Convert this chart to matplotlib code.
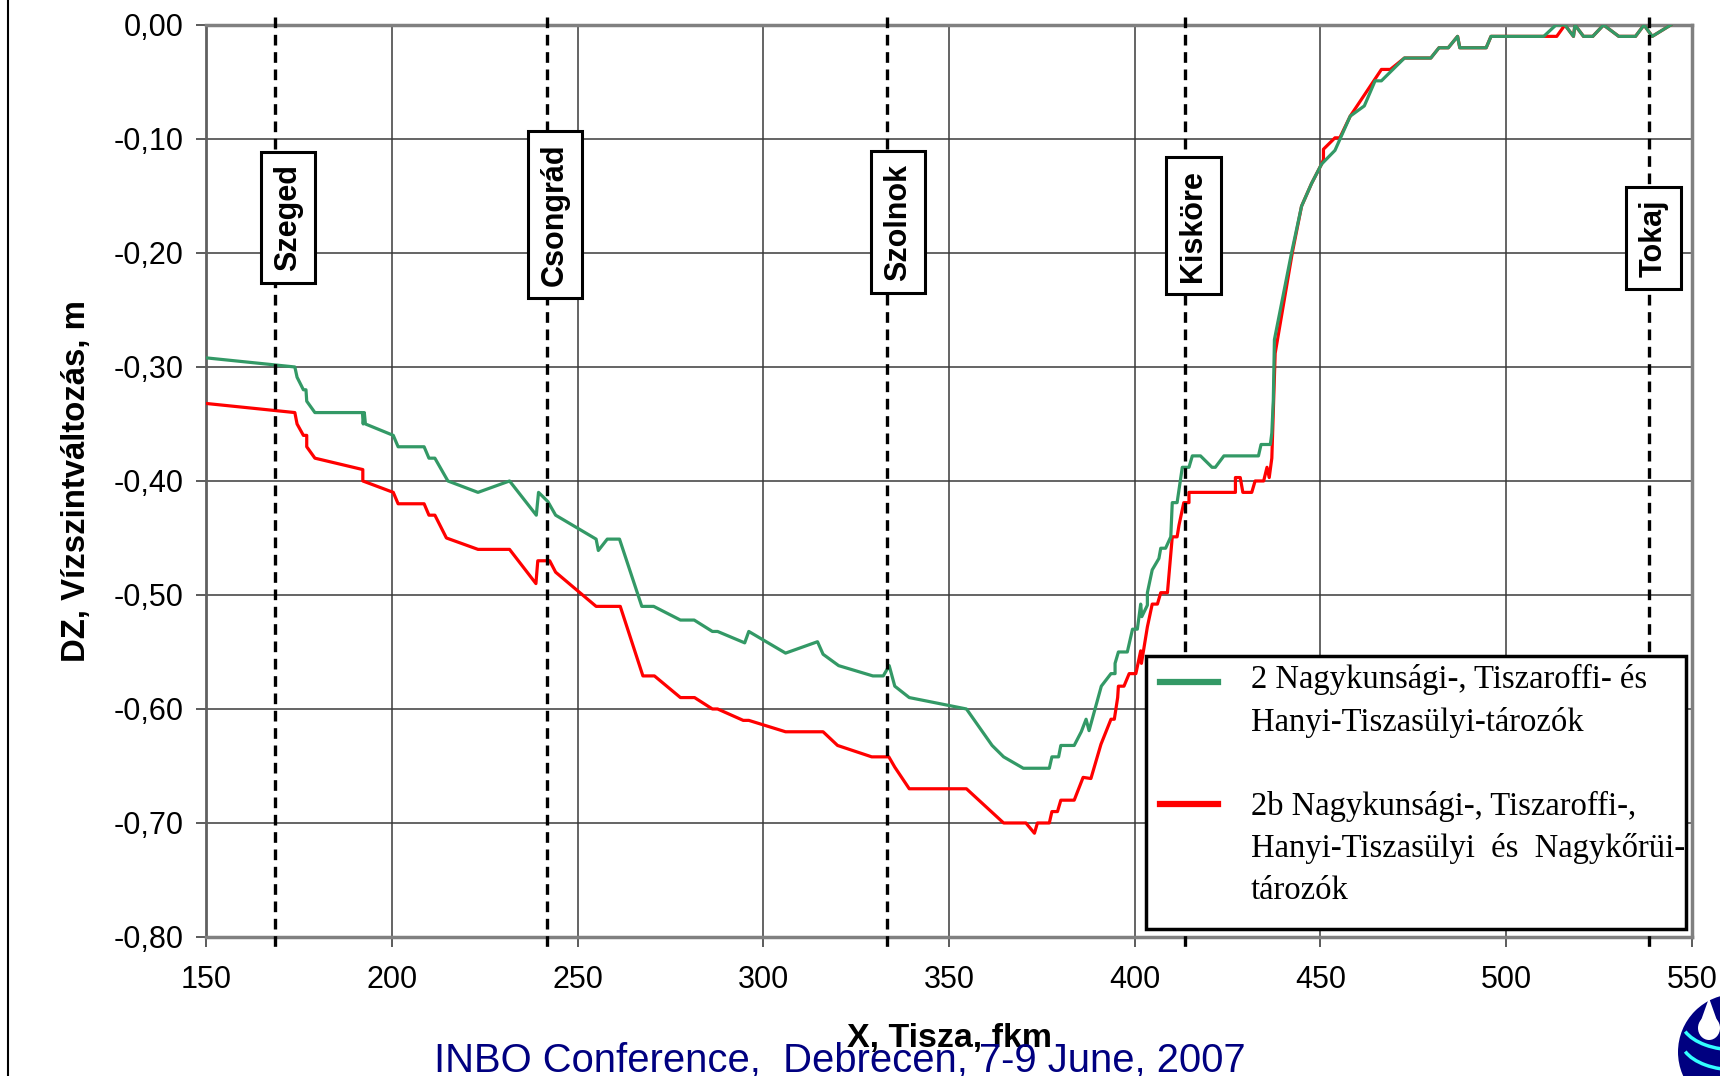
import matplotlib
matplotlib.use("Agg")
import matplotlib.pyplot as plt
from matplotlib.patches import Rectangle, Ellipse, Polygon, Arc
from matplotlib.lines import Line2D
from matplotlib.ticker import MultipleLocator, FuncFormatter

# adatok: Tisza fkm es vizszintvaltozas (m)
green_x = [150, 173.9, 174.5, 176.2, 176.9, 177.1, 179.3, 192.1, 192.3, 192.6, 192.9,
           200.4, 201.7, 208.7, 210.0, 211.6, 215.1, 223.2, 231.7, 238.9, 239.5, 242.0,
           244.1, 255.0, 255.6, 258.0, 261.3, 267.3, 270.5, 277.7, 281.4, 286.3, 287.7,
           295.0, 296.1, 306.0, 314.6, 316.1, 320.3, 329.5, 332.3, 333.9, 335.4, 339.3,
           354.7, 361.6, 364.7, 370.0, 377.0, 377.7, 379.5, 380.1, 383.7, 385.6, 386.9,
           387.7, 391.0, 393.6, 394.7, 394.7, 395.6, 398.0, 399.4, 400.7, 401.6, 401.9,
           403.4, 403.4, 404.7, 406.5, 407.0, 408.3, 409.7, 410.1, 411.4, 412.8, 414.6,
           415.5, 417.7, 420.8, 421.7, 424.0, 433.3, 434.0, 436.5, 436.9, 437.3, 437.6,
           442.2, 444.9, 447.6, 450.3, 453.9, 458.0, 461.8, 464.7, 466.4, 472.6, 479.7,
           481.9, 484.4, 486.9, 487.5, 489.6, 494.6, 495.9, 510.1, 513.4, 515.8, 518.1,
           518.5, 520.8, 523.3, 526.2, 530.3, 534.8, 537.1, 539.3, 544.3]
green_y = [-0.292, -0.300, -0.309, -0.320, -0.320, -0.330, -0.340, -0.340, -0.350, -0.340, -0.350,
           -0.360, -0.370, -0.370, -0.380, -0.380, -0.400, -0.410, -0.400, -0.430, -0.410, -0.418,
           -0.430, -0.451, -0.461, -0.451, -0.451, -0.510, -0.510, -0.522, -0.522, -0.532, -0.532,
           -0.542, -0.532, -0.551, -0.541, -0.552, -0.562, -0.571, -0.571, -0.562, -0.580, -0.590,
           -0.600, -0.632, -0.642, -0.652, -0.652, -0.642, -0.642, -0.632, -0.632, -0.620, -0.609,
           -0.619, -0.580, -0.569, -0.569, -0.560, -0.550, -0.550, -0.530, -0.530, -0.508, -0.519,
           -0.509, -0.498, -0.478, -0.468, -0.459, -0.459, -0.449, -0.419, -0.419, -0.388, -0.388,
           -0.378, -0.378, -0.388, -0.388, -0.378, -0.378, -0.368, -0.368, -0.358, -0.329, -0.276,
           -0.200, -0.159, -0.139, -0.122, -0.110, -0.080, -0.071, -0.049, -0.049, -0.029, -0.029,
           -0.020, -0.020, -0.010, -0.020, -0.020, -0.020, -0.010, -0.010, 0.000, 0.000, -0.010,
           0.000, -0.010, -0.010, 0.000, -0.010, -0.010, 0.000, -0.010, 0.000]

red_x = [150, 173.9, 174.5, 176.2, 177.1, 177.1, 179.3, 192.2, 192.2, 200.4, 201.7, 208.7,
         210.0, 211.6, 214.7, 223.2, 231.7, 238.8, 239.3, 242.5, 244.1, 255.0, 261.5, 267.6,
         270.7, 277.7, 281.5, 286.3, 287.7, 294.6, 296.1, 306.0, 316.1, 320.0, 329.2, 333.8,
         335.4, 339.3, 354.7, 364.7, 370.7, 373.0, 373.8, 377.0, 377.7, 379.2, 380.1, 383.7,
         386.1, 388.2, 390.9, 393.6, 394.5, 395.4, 395.6, 397.1, 398.5, 400.3, 401.6, 401.8,
         403.4, 404.7, 406.1, 407.0, 408.8, 410.1, 411.4, 411.9, 413.2, 414.6, 414.6, 427.1,
         427.1, 428.4, 429.1, 431.5, 432.4, 434.7, 435.6, 436.2, 436.9, 437.8, 442.4, 444.9,
         447.6, 450.3, 450.8, 450.8, 453.9, 455.2, 458.0, 461.9, 466.4, 468.8, 472.6, 479.7,
         481.9, 484.4, 486.9, 487.5, 489.6, 494.6, 495.9, 510.1, 513.6, 515.8, 518.1, 518.5,
         520.8, 523.3, 526.2, 530.3, 534.8, 537.1, 539.3, 544.3]
red_y = [-0.332, -0.340, -0.350, -0.360, -0.360, -0.370, -0.380, -0.390, -0.400, -0.410, -0.420, -0.420,
         -0.430, -0.430, -0.450, -0.460, -0.460, -0.490, -0.470, -0.470, -0.480, -0.510, -0.510, -0.571,
         -0.571, -0.590, -0.590, -0.600, -0.600, -0.610, -0.610, -0.620, -0.620, -0.632, -0.642, -0.642,
         -0.651, -0.670, -0.670, -0.700, -0.700, -0.709, -0.700, -0.700, -0.690, -0.690, -0.680, -0.680,
         -0.660, -0.661, -0.631, -0.609, -0.609, -0.590, -0.580, -0.580, -0.569, -0.569, -0.549, -0.560,
         -0.528, -0.508, -0.508, -0.498, -0.498, -0.449, -0.449, -0.439, -0.419, -0.419, -0.410, -0.410,
         -0.397, -0.397, -0.410, -0.410, -0.400, -0.400, -0.388, -0.397, -0.380, -0.288, -0.200, -0.159,
         -0.139, -0.122, -0.118, -0.109, -0.099, -0.099, -0.080, -0.061, -0.039, -0.039, -0.029, -0.029,
         -0.020, -0.020, -0.010, -0.020, -0.020, -0.020, -0.010, -0.010, -0.010, 0.000, -0.010, 0.000,
         -0.010, -0.010, 0.000, -0.010, -0.010, 0.000, -0.010, 0.000]

stations = ["Szeged", "Csongrád", "Szolnok", "Kisköre", "Tokaj"]
station_km = [168.6, 241.8, 333.3, 413.4, 538.4]
label_x = [172.0, 244.0, 336.3, 415.8, 539.6]
label_y = [-0.169, -0.166, -0.173, -0.176, -0.187]

green_label = "2 Nagykunsági-, Tiszaroffi- és\nHanyi-Tiszasülyi-tározók"
red_label = "2b Nagykunsági-, Tiszaroffi-,\nHanyi-Tiszasülyi  és  Nagykőrüi-\ntározók"

GREEN = "#339966"
RED = "#ff0000"

plt.rcParams["font.family"] = ["Liberation Sans", "DejaVu Sans"]

fig = plt.figure(figsize=(17.2, 10.76), dpi=100)
ax = fig.add_axes([0.1198, 0.1292, 0.8639, 0.8476])

ax.plot(red_x, red_y, color=RED, lw=2.3, zorder=3)
ax.plot(green_x, green_y, color=GREEN, lw=2.3, zorder=4)

for km, name, lx, ly in zip(station_km, stations, label_x, label_y):
    ax.plot([km, km], [0.007, -0.812], color="black", lw=2.4,
            linestyle=(0, (3.2, 2)), clip_on=False, zorder=5)
    ax.text(lx, ly, name, rotation=90, ha="center", va="center",
            fontsize=22, fontweight="bold", zorder=6,
            bbox=dict(boxstyle="square,pad=0.4", fc="white", ec="black", lw=2.2))

ax.set_xlim(150, 550)
ax.set_ylim(-0.8, 0)
ax.xaxis.set_major_locator(MultipleLocator(50))
ax.yaxis.set_major_locator(MultipleLocator(0.1))
ax.yaxis.set_major_formatter(FuncFormatter(lambda v, p: ("%.2f" % v).replace(".", ",").replace("-0,00", "0,00")))
ax.tick_params(axis="both", direction="out", length=7, width=1.2, labelsize=22, color="#404040")
ax.tick_params(axis="y", pad=9)
ax.tick_params(axis="x", pad=13)
ax.grid(True, color="#3a3a3a", lw=1.1)
ax.set_axisbelow(True)
for side in ["top", "right", "bottom"]:
    ax.spines[side].set_color("#808080")
    ax.spines[side].set_linewidth(2.5)
ax.spines["left"].set_color("#606060")
ax.spines["left"].set_linewidth(2)

ax.set_ylabel("DZ, Vízszintváltozás, m", fontsize=23.7, fontweight="bold", labelpad=16)
ax.set_xlabel("X, Tisza, fkm", fontsize=24.5, fontweight="bold", labelpad=20)

# jelmagyarazat kezzel, hogy a vonal az elso sorhoz igazodjon
ax.add_patch(Rectangle((0.6326, 0.0088), 0.3634, 0.2992, transform=ax.transAxes,
                       fc="white", ec="black", lw=2.5, zorder=7, clip_on=False))
ax.add_line(Line2D([0.6417, 0.6808], [0.2796, 0.2796], transform=ax.transAxes,
                   color=GREEN, lw=4.5, zorder=8))
ax.add_line(Line2D([0.6417, 0.6808], [0.1458, 0.1458], transform=ax.transAxes,
                   color=RED, lw=4.5, zorder=8))
# va="baseline" -> utolso sor alapvonala
ax.text(0.703, 0.2263, green_label, transform=ax.transAxes, va="baseline", ha="left",
        fontsize=23.5, family="Liberation Serif", linespacing=1.47, zorder=8)
ax.text(0.703, 0.0420, red_label, transform=ax.transAxes, va="baseline", ha="left",
        fontsize=23.5, family="Liberation Serif", linespacing=1.47, zorder=8)

fig.text(0.4884, 0.0037, "INBO Conference,  Debrecen, 7-9 June, 2007", color="#000080",
         fontsize=28.8, ha="center", va="baseline")

# dia bal szele
fig.add_artist(Line2D([0.0047, 0.0047], [0, 1], color="black", lw=1.5, transform=fig.transFigure))

# logo a jobb also sarokban (reszben kilog)
cx, cy = 1736 / 1720, 1 - 1052 / 1076
fig.add_artist(Ellipse((cx, cy), 116 / 1720, 116 / 1076, transform=fig.transFigure, fc="#000080", ec="none"))
fig.add_artist(Ellipse((1709 / 1720, 1 - 1028 / 1076), 22 / 1720, 24 / 1076,
                       transform=fig.transFigure, fc="white", ec="none"))
fig.add_artist(Polygon([(1699 / 1720, 1 - 1026 / 1076), (1719 / 1720, 1 - 1026 / 1076), (1709 / 1720, 1 - 998 / 1076)],
                       transform=fig.transFigure, fc="white", ec="none"))
for dy in [1040, 1060]:
    fig.add_artist(Arc((1736 / 1720, 1 - (dy - 20) / 1076), 110 / 1720, 60 / 1076, theta1=200, theta2=340,
                       transform=fig.transFigure, color="#33ffff", lw=2.5))

fig.savefig("out.png", dpi=100)
